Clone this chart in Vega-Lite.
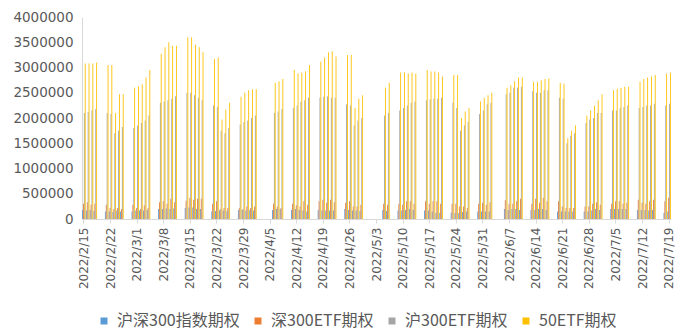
{
  "$schema": "https://vega.github.io/schema/vega-lite/v6.json",
  "width": 589,
  "height": 202,
  "autosize": {"type": "none"},
  "padding": {"left": 82, "top": 17, "right": 6, "bottom": 112},
  "background": "white",
  "config": {"view": {"stroke": null}},
  "data": {
    "values": [
      {"date": "2022/2/15", "series": "沪深300指数期权", "value": 180000},
      {"date": "2022/2/15", "series": "深300ETF期权", "value": 300000},
      {"date": "2022/2/15", "series": "沪300ETF期权", "value": 2100000},
      {"date": "2022/2/15", "series": "50ETF期权", "value": 3080000},
      {"date": "2022/2/16", "series": "沪深300指数期权", "value": 170000},
      {"date": "2022/2/16", "series": "深300ETF期权", "value": 330000},
      {"date": "2022/2/16", "series": "沪300ETF期权", "value": 2120000},
      {"date": "2022/2/16", "series": "50ETF期权", "value": 3080000},
      {"date": "2022/2/17", "series": "沪深300指数期权", "value": 180000},
      {"date": "2022/2/17", "series": "深300ETF期权", "value": 280000},
      {"date": "2022/2/17", "series": "沪300ETF期权", "value": 2150000},
      {"date": "2022/2/17", "series": "50ETF期权", "value": 3080000},
      {"date": "2022/2/18", "series": "沪深300指数期权", "value": 160000},
      {"date": "2022/2/18", "series": "深300ETF期权", "value": 300000},
      {"date": "2022/2/18", "series": "沪300ETF期权", "value": 2180000},
      {"date": "2022/2/18", "series": "50ETF期权", "value": 3100000},
      {"date": "2022/2/21", "series": "沪深300指数期权", "value": 150000},
      {"date": "2022/2/21", "series": "深300ETF期权", "value": 280000},
      {"date": "2022/2/21", "series": "沪300ETF期权", "value": 2100000},
      {"date": "2022/2/21", "series": "50ETF期权", "value": 3050000},
      {"date": "2022/2/22", "series": "沪深300指数期权", "value": 150000},
      {"date": "2022/2/22", "series": "深300ETF期权", "value": 220000},
      {"date": "2022/2/22", "series": "沪300ETF期权", "value": 2080000},
      {"date": "2022/2/22", "series": "50ETF期权", "value": 3050000},
      {"date": "2022/2/23", "series": "沪深300指数期权", "value": 140000},
      {"date": "2022/2/23", "series": "深300ETF期权", "value": 200000},
      {"date": "2022/2/23", "series": "沪300ETF期权", "value": 1700000},
      {"date": "2022/2/23", "series": "50ETF期权", "value": 2100000},
      {"date": "2022/2/24", "series": "沪深300指数期权", "value": 170000},
      {"date": "2022/2/24", "series": "深300ETF期权", "value": 220000},
      {"date": "2022/2/24", "series": "沪300ETF期权", "value": 1750000},
      {"date": "2022/2/24", "series": "50ETF期权", "value": 2470000},
      {"date": "2022/2/25", "series": "沪深300指数期权", "value": 150000},
      {"date": "2022/2/25", "series": "深300ETF期权", "value": 200000},
      {"date": "2022/2/25", "series": "沪300ETF期权", "value": 1820000},
      {"date": "2022/2/25", "series": "50ETF期权", "value": 2470000},
      {"date": "2022/2/28", "series": "沪深300指数期权", "value": 150000},
      {"date": "2022/2/28", "series": "深300ETF期权", "value": 280000},
      {"date": "2022/2/28", "series": "沪300ETF期权", "value": 1800000},
      {"date": "2022/2/28", "series": "50ETF期权", "value": 2600000},
      {"date": "2022/3/1", "series": "沪深300指数期权", "value": 170000},
      {"date": "2022/3/1", "series": "深300ETF期权", "value": 220000},
      {"date": "2022/3/1", "series": "沪300ETF期权", "value": 1850000},
      {"date": "2022/3/1", "series": "50ETF期权", "value": 2630000},
      {"date": "2022/3/2", "series": "沪深300指数期权", "value": 170000},
      {"date": "2022/3/2", "series": "深300ETF期权", "value": 200000},
      {"date": "2022/3/2", "series": "沪300ETF期权", "value": 1900000},
      {"date": "2022/3/2", "series": "50ETF期权", "value": 2670000},
      {"date": "2022/3/3", "series": "沪深300指数期权", "value": 170000},
      {"date": "2022/3/3", "series": "深300ETF期权", "value": 270000},
      {"date": "2022/3/3", "series": "沪300ETF期权", "value": 1950000},
      {"date": "2022/3/3", "series": "50ETF期权", "value": 2800000},
      {"date": "2022/3/4", "series": "沪深300指数期权", "value": 180000},
      {"date": "2022/3/4", "series": "深300ETF期权", "value": 220000},
      {"date": "2022/3/4", "series": "沪300ETF期权", "value": 2050000},
      {"date": "2022/3/4", "series": "50ETF期权", "value": 2950000},
      {"date": "2022/3/7", "series": "沪深300指数期权", "value": 200000},
      {"date": "2022/3/7", "series": "深300ETF期权", "value": 330000},
      {"date": "2022/3/7", "series": "沪300ETF期权", "value": 2300000},
      {"date": "2022/3/7", "series": "50ETF期权", "value": 3270000},
      {"date": "2022/3/8", "series": "沪深300指数期权", "value": 200000},
      {"date": "2022/3/8", "series": "深300ETF期权", "value": 350000},
      {"date": "2022/3/8", "series": "沪300ETF期权", "value": 2320000},
      {"date": "2022/3/8", "series": "50ETF期权", "value": 3400000},
      {"date": "2022/3/9", "series": "沪深300指数期权", "value": 210000},
      {"date": "2022/3/9", "series": "深300ETF期权", "value": 300000},
      {"date": "2022/3/9", "series": "沪300ETF期权", "value": 2350000},
      {"date": "2022/3/9", "series": "50ETF期权", "value": 3500000},
      {"date": "2022/3/10", "series": "沪深300指数期权", "value": 200000},
      {"date": "2022/3/10", "series": "深300ETF期权", "value": 400000},
      {"date": "2022/3/10", "series": "沪300ETF期权", "value": 2380000},
      {"date": "2022/3/10", "series": "50ETF期权", "value": 3430000},
      {"date": "2022/3/11", "series": "沪深300指数期权", "value": 210000},
      {"date": "2022/3/11", "series": "深300ETF期权", "value": 330000},
      {"date": "2022/3/11", "series": "沪300ETF期权", "value": 2430000},
      {"date": "2022/3/11", "series": "50ETF期权", "value": 3430000},
      {"date": "2022/3/14", "series": "沪深300指数期权", "value": 220000},
      {"date": "2022/3/14", "series": "深300ETF期权", "value": 360000},
      {"date": "2022/3/14", "series": "沪300ETF期权", "value": 2500000},
      {"date": "2022/3/14", "series": "50ETF期权", "value": 3600000},
      {"date": "2022/3/15", "series": "沪深300指数期权", "value": 230000},
      {"date": "2022/3/15", "series": "深300ETF期权", "value": 420000},
      {"date": "2022/3/15", "series": "沪300ETF期权", "value": 2500000},
      {"date": "2022/3/15", "series": "50ETF期权", "value": 3600000},
      {"date": "2022/3/16", "series": "沪深300指数期权", "value": 230000},
      {"date": "2022/3/16", "series": "深300ETF期权", "value": 380000},
      {"date": "2022/3/16", "series": "沪300ETF期权", "value": 2450000},
      {"date": "2022/3/16", "series": "50ETF期权", "value": 3450000},
      {"date": "2022/3/17", "series": "沪深300指数期权", "value": 200000},
      {"date": "2022/3/17", "series": "深300ETF期权", "value": 400000},
      {"date": "2022/3/17", "series": "沪300ETF期权", "value": 2400000},
      {"date": "2022/3/17", "series": "50ETF期权", "value": 3400000},
      {"date": "2022/3/18", "series": "沪深300指数期权", "value": 200000},
      {"date": "2022/3/18", "series": "深300ETF期权", "value": 400000},
      {"date": "2022/3/18", "series": "沪300ETF期权", "value": 2350000},
      {"date": "2022/3/18", "series": "50ETF期权", "value": 3300000},
      {"date": "2022/3/21", "series": "沪深300指数期权", "value": 150000},
      {"date": "2022/3/21", "series": "深300ETF期权", "value": 300000},
      {"date": "2022/3/21", "series": "沪300ETF期权", "value": 2250000},
      {"date": "2022/3/21", "series": "50ETF期权", "value": 3170000},
      {"date": "2022/3/22", "series": "沪深300指数期权", "value": 160000},
      {"date": "2022/3/22", "series": "深300ETF期权", "value": 350000},
      {"date": "2022/3/22", "series": "沪300ETF期权", "value": 2220000},
      {"date": "2022/3/22", "series": "50ETF期权", "value": 3200000},
      {"date": "2022/3/23", "series": "沪深300指数期权", "value": 170000},
      {"date": "2022/3/23", "series": "深300ETF期权", "value": 200000},
      {"date": "2022/3/23", "series": "沪300ETF期权", "value": 1750000},
      {"date": "2022/3/23", "series": "50ETF期权", "value": 1970000},
      {"date": "2022/3/24", "series": "沪深300指数期权", "value": 170000},
      {"date": "2022/3/24", "series": "深300ETF期权", "value": 220000},
      {"date": "2022/3/24", "series": "沪300ETF期权", "value": 1700000},
      {"date": "2022/3/24", "series": "50ETF期权", "value": 2170000},
      {"date": "2022/3/25", "series": "沪深300指数期权", "value": 160000},
      {"date": "2022/3/25", "series": "深300ETF期权", "value": 220000},
      {"date": "2022/3/25", "series": "沪300ETF期权", "value": 1800000},
      {"date": "2022/3/25", "series": "50ETF期权", "value": 2300000},
      {"date": "2022/3/28", "series": "沪深300指数期权", "value": 180000},
      {"date": "2022/3/28", "series": "深300ETF期权", "value": 220000},
      {"date": "2022/3/28", "series": "沪300ETF期权", "value": 1870000},
      {"date": "2022/3/28", "series": "50ETF期权", "value": 2420000},
      {"date": "2022/3/29", "series": "沪深300指数期权", "value": 180000},
      {"date": "2022/3/29", "series": "深300ETF期权", "value": 200000},
      {"date": "2022/3/29", "series": "沪300ETF期权", "value": 1920000},
      {"date": "2022/3/29", "series": "50ETF期权", "value": 2500000},
      {"date": "2022/3/30", "series": "沪深300指数期权", "value": 170000},
      {"date": "2022/3/30", "series": "深300ETF期权", "value": 250000},
      {"date": "2022/3/30", "series": "沪300ETF期权", "value": 1950000},
      {"date": "2022/3/30", "series": "50ETF期权", "value": 2550000},
      {"date": "2022/3/31", "series": "沪深300指数期权", "value": 180000},
      {"date": "2022/3/31", "series": "深300ETF期权", "value": 220000},
      {"date": "2022/3/31", "series": "沪300ETF期权", "value": 2000000},
      {"date": "2022/3/31", "series": "50ETF期权", "value": 2570000},
      {"date": "2022/4/1", "series": "沪深300指数期权", "value": 170000},
      {"date": "2022/4/1", "series": "深300ETF期权", "value": 250000},
      {"date": "2022/4/1", "series": "沪300ETF期权", "value": 2050000},
      {"date": "2022/4/1", "series": "50ETF期权", "value": 2570000},
      {"date": "2022/4/6", "series": "沪深300指数期权", "value": 180000},
      {"date": "2022/4/6", "series": "深300ETF期权", "value": 300000},
      {"date": "2022/4/6", "series": "沪300ETF期权", "value": 2100000},
      {"date": "2022/4/6", "series": "50ETF期权", "value": 2700000},
      {"date": "2022/4/7", "series": "沪深300指数期权", "value": 200000},
      {"date": "2022/4/7", "series": "深300ETF期权", "value": 250000},
      {"date": "2022/4/7", "series": "沪300ETF期权", "value": 2130000},
      {"date": "2022/4/7", "series": "50ETF期权", "value": 2730000},
      {"date": "2022/4/8", "series": "沪深300指数期权", "value": 200000},
      {"date": "2022/4/8", "series": "深300ETF期权", "value": 220000},
      {"date": "2022/4/8", "series": "沪300ETF期权", "value": 2180000},
      {"date": "2022/4/8", "series": "50ETF期权", "value": 2770000},
      {"date": "2022/4/11", "series": "沪深300指数期权", "value": 180000},
      {"date": "2022/4/11", "series": "深300ETF期权", "value": 300000},
      {"date": "2022/4/11", "series": "沪300ETF期权", "value": 2200000},
      {"date": "2022/4/11", "series": "50ETF期权", "value": 2950000},
      {"date": "2022/4/12", "series": "沪深300指数期权", "value": 200000},
      {"date": "2022/4/12", "series": "深300ETF期权", "value": 270000},
      {"date": "2022/4/12", "series": "沪300ETF期权", "value": 2250000},
      {"date": "2022/4/12", "series": "50ETF期权", "value": 2880000},
      {"date": "2022/4/13", "series": "沪深300指数期权", "value": 180000},
      {"date": "2022/4/13", "series": "深300ETF期权", "value": 250000},
      {"date": "2022/4/13", "series": "沪300ETF期权", "value": 2320000},
      {"date": "2022/4/13", "series": "50ETF期权", "value": 2900000},
      {"date": "2022/4/14", "series": "沪深300指数期权", "value": 170000},
      {"date": "2022/4/14", "series": "深300ETF期权", "value": 350000},
      {"date": "2022/4/14", "series": "沪300ETF期权", "value": 2350000},
      {"date": "2022/4/14", "series": "50ETF期权", "value": 2920000},
      {"date": "2022/4/15", "series": "沪深300指数期权", "value": 150000},
      {"date": "2022/4/15", "series": "深300ETF期权", "value": 280000},
      {"date": "2022/4/15", "series": "沪300ETF期权", "value": 2400000},
      {"date": "2022/4/15", "series": "50ETF期权", "value": 3050000},
      {"date": "2022/4/18", "series": "沪深300指数期权", "value": 180000},
      {"date": "2022/4/18", "series": "深300ETF期权", "value": 350000},
      {"date": "2022/4/18", "series": "沪300ETF期权", "value": 2400000},
      {"date": "2022/4/18", "series": "50ETF期权", "value": 3120000},
      {"date": "2022/4/19", "series": "沪深300指数期权", "value": 170000},
      {"date": "2022/4/19", "series": "深300ETF期权", "value": 380000},
      {"date": "2022/4/19", "series": "沪300ETF期权", "value": 2420000},
      {"date": "2022/4/19", "series": "50ETF期权", "value": 3200000},
      {"date": "2022/4/20", "series": "沪深300指数期权", "value": 170000},
      {"date": "2022/4/20", "series": "深300ETF期权", "value": 320000},
      {"date": "2022/4/20", "series": "沪300ETF期权", "value": 2430000},
      {"date": "2022/4/20", "series": "50ETF期权", "value": 3300000},
      {"date": "2022/4/21", "series": "沪深300指数期权", "value": 170000},
      {"date": "2022/4/21", "series": "深300ETF期权", "value": 380000},
      {"date": "2022/4/21", "series": "沪300ETF期权", "value": 2400000},
      {"date": "2022/4/21", "series": "50ETF期权", "value": 3320000},
      {"date": "2022/4/22", "series": "沪深300指数期权", "value": 170000},
      {"date": "2022/4/22", "series": "深300ETF期权", "value": 330000},
      {"date": "2022/4/22", "series": "沪300ETF期权", "value": 2400000},
      {"date": "2022/4/22", "series": "50ETF期权", "value": 3220000},
      {"date": "2022/4/25", "series": "沪深300指数期权", "value": 200000},
      {"date": "2022/4/25", "series": "深300ETF期权", "value": 320000},
      {"date": "2022/4/25", "series": "沪300ETF期权", "value": 2270000},
      {"date": "2022/4/25", "series": "50ETF期权", "value": 3250000},
      {"date": "2022/4/26", "series": "沪深300指数期权", "value": 180000},
      {"date": "2022/4/26", "series": "深300ETF期权", "value": 350000},
      {"date": "2022/4/26", "series": "沪300ETF期权", "value": 2250000},
      {"date": "2022/4/26", "series": "50ETF期权", "value": 3250000},
      {"date": "2022/4/27", "series": "沪深300指数期权", "value": 170000},
      {"date": "2022/4/27", "series": "深300ETF期权", "value": 250000},
      {"date": "2022/4/27", "series": "沪300ETF期权", "value": 1850000},
      {"date": "2022/4/27", "series": "50ETF期权", "value": 2200000},
      {"date": "2022/4/28", "series": "沪深300指数期权", "value": 170000},
      {"date": "2022/4/28", "series": "深300ETF期权", "value": 250000},
      {"date": "2022/4/28", "series": "沪300ETF期权", "value": 1950000},
      {"date": "2022/4/28", "series": "50ETF期权", "value": 2380000},
      {"date": "2022/4/29", "series": "沪深300指数期权", "value": 160000},
      {"date": "2022/4/29", "series": "深300ETF期权", "value": 280000},
      {"date": "2022/4/29", "series": "沪300ETF期权", "value": 2000000},
      {"date": "2022/4/29", "series": "50ETF期权", "value": 2450000},
      {"date": "2022/5/5", "series": "沪深300指数期权", "value": 180000},
      {"date": "2022/5/5", "series": "深300ETF期权", "value": 300000},
      {"date": "2022/5/5", "series": "沪300ETF期权", "value": 2050000},
      {"date": "2022/5/5", "series": "50ETF期权", "value": 2600000},
      {"date": "2022/5/6", "series": "沪深300指数期权", "value": 160000},
      {"date": "2022/5/6", "series": "深300ETF期权", "value": 280000},
      {"date": "2022/5/6", "series": "沪300ETF期权", "value": 2100000},
      {"date": "2022/5/6", "series": "50ETF期权", "value": 2700000},
      {"date": "2022/5/9", "series": "沪深300指数期权", "value": 170000},
      {"date": "2022/5/9", "series": "深300ETF期权", "value": 300000},
      {"date": "2022/5/9", "series": "沪300ETF期权", "value": 2150000},
      {"date": "2022/5/9", "series": "50ETF期权", "value": 2900000},
      {"date": "2022/5/10", "series": "沪深300指数期权", "value": 170000},
      {"date": "2022/5/10", "series": "深300ETF期权", "value": 280000},
      {"date": "2022/5/10", "series": "沪300ETF期权", "value": 2200000},
      {"date": "2022/5/10", "series": "50ETF期权", "value": 2900000},
      {"date": "2022/5/11", "series": "沪深300指数期权", "value": 180000},
      {"date": "2022/5/11", "series": "深300ETF期权", "value": 350000},
      {"date": "2022/5/11", "series": "沪300ETF期权", "value": 2250000},
      {"date": "2022/5/11", "series": "50ETF期权", "value": 2880000},
      {"date": "2022/5/12", "series": "沪深300指数期权", "value": 200000},
      {"date": "2022/5/12", "series": "深300ETF期权", "value": 350000},
      {"date": "2022/5/12", "series": "沪300ETF期权", "value": 2300000},
      {"date": "2022/5/12", "series": "50ETF期权", "value": 2900000},
      {"date": "2022/5/13", "series": "沪深300指数期权", "value": 180000},
      {"date": "2022/5/13", "series": "深300ETF期权", "value": 300000},
      {"date": "2022/5/13", "series": "沪300ETF期权", "value": 2320000},
      {"date": "2022/5/13", "series": "50ETF期权", "value": 2880000},
      {"date": "2022/5/16", "series": "沪深300指数期权", "value": 170000},
      {"date": "2022/5/16", "series": "深300ETF期权", "value": 350000},
      {"date": "2022/5/16", "series": "沪300ETF期权", "value": 2350000},
      {"date": "2022/5/16", "series": "50ETF期权", "value": 2950000},
      {"date": "2022/5/17", "series": "沪深300指数期权", "value": 170000},
      {"date": "2022/5/17", "series": "深300ETF期权", "value": 300000},
      {"date": "2022/5/17", "series": "沪300ETF期权", "value": 2370000},
      {"date": "2022/5/17", "series": "50ETF期权", "value": 2920000},
      {"date": "2022/5/18", "series": "沪深300指数期权", "value": 150000},
      {"date": "2022/5/18", "series": "深300ETF期权", "value": 350000},
      {"date": "2022/5/18", "series": "沪300ETF期权", "value": 2380000},
      {"date": "2022/5/18", "series": "50ETF期权", "value": 2920000},
      {"date": "2022/5/19", "series": "沪深300指数期权", "value": 120000},
      {"date": "2022/5/19", "series": "深300ETF期权", "value": 350000},
      {"date": "2022/5/19", "series": "沪300ETF期权", "value": 2380000},
      {"date": "2022/5/19", "series": "50ETF期权", "value": 2900000},
      {"date": "2022/5/20", "series": "沪深300指数期权", "value": 120000},
      {"date": "2022/5/20", "series": "深300ETF期权", "value": 300000},
      {"date": "2022/5/20", "series": "沪300ETF期权", "value": 2400000},
      {"date": "2022/5/20", "series": "50ETF期权", "value": 2820000},
      {"date": "2022/5/23", "series": "沪深300指数期权", "value": 130000},
      {"date": "2022/5/23", "series": "深300ETF期权", "value": 300000},
      {"date": "2022/5/23", "series": "沪300ETF期权", "value": 2300000},
      {"date": "2022/5/23", "series": "50ETF期权", "value": 2850000},
      {"date": "2022/5/24", "series": "沪深300指数期权", "value": 120000},
      {"date": "2022/5/24", "series": "深300ETF期权", "value": 300000},
      {"date": "2022/5/24", "series": "沪300ETF期权", "value": 2200000},
      {"date": "2022/5/24", "series": "50ETF期权", "value": 2850000},
      {"date": "2022/5/25", "series": "沪深300指数期权", "value": 120000},
      {"date": "2022/5/25", "series": "深300ETF期权", "value": 250000},
      {"date": "2022/5/25", "series": "沪300ETF期权", "value": 1750000},
      {"date": "2022/5/25", "series": "50ETF期权", "value": 2000000},
      {"date": "2022/5/26", "series": "沪深300指数期权", "value": 140000},
      {"date": "2022/5/26", "series": "深300ETF期权", "value": 250000},
      {"date": "2022/5/26", "series": "沪300ETF期权", "value": 1850000},
      {"date": "2022/5/26", "series": "50ETF期权", "value": 2130000},
      {"date": "2022/5/27", "series": "沪深300指数期权", "value": 150000},
      {"date": "2022/5/27", "series": "深300ETF期权", "value": 220000},
      {"date": "2022/5/27", "series": "沪300ETF期权", "value": 1920000},
      {"date": "2022/5/27", "series": "50ETF期权", "value": 2200000},
      {"date": "2022/5/30", "series": "沪深300指数期权", "value": 150000},
      {"date": "2022/5/30", "series": "深300ETF期权", "value": 300000},
      {"date": "2022/5/30", "series": "沪300ETF期权", "value": 2080000},
      {"date": "2022/5/30", "series": "50ETF期权", "value": 2330000},
      {"date": "2022/5/31", "series": "沪深300指数期权", "value": 150000},
      {"date": "2022/5/31", "series": "深300ETF期权", "value": 320000},
      {"date": "2022/5/31", "series": "沪300ETF期权", "value": 2150000},
      {"date": "2022/5/31", "series": "50ETF期权", "value": 2400000},
      {"date": "2022/6/1", "series": "沪深300指数期权", "value": 150000},
      {"date": "2022/6/1", "series": "深300ETF期权", "value": 280000},
      {"date": "2022/6/1", "series": "沪300ETF期权", "value": 2270000},
      {"date": "2022/6/1", "series": "50ETF期权", "value": 2450000},
      {"date": "2022/6/2", "series": "沪深300指数期权", "value": 150000},
      {"date": "2022/6/2", "series": "深300ETF期权", "value": 330000},
      {"date": "2022/6/2", "series": "沪300ETF期权", "value": 2300000},
      {"date": "2022/6/2", "series": "50ETF期权", "value": 2500000},
      {"date": "2022/6/6", "series": "沪深300指数期权", "value": 200000},
      {"date": "2022/6/6", "series": "深300ETF期权", "value": 370000},
      {"date": "2022/6/6", "series": "沪300ETF期权", "value": 2470000},
      {"date": "2022/6/6", "series": "50ETF期权", "value": 2600000},
      {"date": "2022/6/7", "series": "沪深300指数期权", "value": 180000},
      {"date": "2022/6/7", "series": "深300ETF期权", "value": 300000},
      {"date": "2022/6/7", "series": "沪300ETF期权", "value": 2500000},
      {"date": "2022/6/7", "series": "50ETF期权", "value": 2650000},
      {"date": "2022/6/8", "series": "沪深300指数期权", "value": 200000},
      {"date": "2022/6/8", "series": "深300ETF期权", "value": 300000},
      {"date": "2022/6/8", "series": "沪300ETF期权", "value": 2600000},
      {"date": "2022/6/8", "series": "50ETF期权", "value": 2730000},
      {"date": "2022/6/9", "series": "沪深300指数期权", "value": 200000},
      {"date": "2022/6/9", "series": "深300ETF期权", "value": 350000},
      {"date": "2022/6/9", "series": "沪300ETF期权", "value": 2600000},
      {"date": "2022/6/9", "series": "50ETF期权", "value": 2800000},
      {"date": "2022/6/10", "series": "沪深300指数期权", "value": 180000},
      {"date": "2022/6/10", "series": "深300ETF期权", "value": 400000},
      {"date": "2022/6/10", "series": "沪300ETF期权", "value": 2620000},
      {"date": "2022/6/10", "series": "50ETF期权", "value": 2800000},
      {"date": "2022/6/13", "series": "沪深300指数期权", "value": 180000},
      {"date": "2022/6/13", "series": "深300ETF期权", "value": 300000},
      {"date": "2022/6/13", "series": "沪300ETF期权", "value": 2530000},
      {"date": "2022/6/13", "series": "50ETF期权", "value": 2720000},
      {"date": "2022/6/14", "series": "沪深300指数期权", "value": 180000},
      {"date": "2022/6/14", "series": "深300ETF期权", "value": 400000},
      {"date": "2022/6/14", "series": "沪300ETF期权", "value": 2500000},
      {"date": "2022/6/14", "series": "50ETF期权", "value": 2720000},
      {"date": "2022/6/15", "series": "沪深300指数期权", "value": 200000},
      {"date": "2022/6/15", "series": "深300ETF期权", "value": 320000},
      {"date": "2022/6/15", "series": "沪300ETF期权", "value": 2500000},
      {"date": "2022/6/15", "series": "50ETF期权", "value": 2750000},
      {"date": "2022/6/16", "series": "沪深300指数期权", "value": 200000},
      {"date": "2022/6/16", "series": "深300ETF期权", "value": 420000},
      {"date": "2022/6/16", "series": "沪300ETF期权", "value": 2550000},
      {"date": "2022/6/16", "series": "50ETF期权", "value": 2770000},
      {"date": "2022/6/17", "series": "沪深300指数期权", "value": 180000},
      {"date": "2022/6/17", "series": "深300ETF期权", "value": 350000},
      {"date": "2022/6/17", "series": "沪300ETF期权", "value": 2550000},
      {"date": "2022/6/17", "series": "50ETF期权", "value": 2780000},
      {"date": "2022/6/20", "series": "沪深300指数期权", "value": 150000},
      {"date": "2022/6/20", "series": "深300ETF期权", "value": 350000},
      {"date": "2022/6/20", "series": "沪300ETF期权", "value": 2400000},
      {"date": "2022/6/20", "series": "50ETF期权", "value": 2700000},
      {"date": "2022/6/21", "series": "沪深300指数期权", "value": 150000},
      {"date": "2022/6/21", "series": "深300ETF期权", "value": 250000},
      {"date": "2022/6/21", "series": "沪300ETF期权", "value": 2380000},
      {"date": "2022/6/21", "series": "50ETF期权", "value": 2680000},
      {"date": "2022/6/22", "series": "沪深300指数期权", "value": 150000},
      {"date": "2022/6/22", "series": "深300ETF期权", "value": 220000},
      {"date": "2022/6/22", "series": "沪300ETF期权", "value": 1500000},
      {"date": "2022/6/22", "series": "50ETF期权", "value": 1600000},
      {"date": "2022/6/23", "series": "沪深300指数期权", "value": 150000},
      {"date": "2022/6/23", "series": "深300ETF期权", "value": 220000},
      {"date": "2022/6/23", "series": "沪300ETF期权", "value": 1650000},
      {"date": "2022/6/23", "series": "50ETF期权", "value": 1750000},
      {"date": "2022/6/24", "series": "沪深300指数期权", "value": 150000},
      {"date": "2022/6/24", "series": "深300ETF期权", "value": 220000},
      {"date": "2022/6/24", "series": "沪300ETF期权", "value": 1700000},
      {"date": "2022/6/24", "series": "50ETF期权", "value": 1850000},
      {"date": "2022/6/27", "series": "沪深300指数期权", "value": 150000},
      {"date": "2022/6/27", "series": "深300ETF期权", "value": 250000},
      {"date": "2022/6/27", "series": "沪300ETF期权", "value": 1900000},
      {"date": "2022/6/27", "series": "50ETF期权", "value": 2050000},
      {"date": "2022/6/28", "series": "沪深300指数期权", "value": 150000},
      {"date": "2022/6/28", "series": "深300ETF期权", "value": 250000},
      {"date": "2022/6/28", "series": "沪300ETF期权", "value": 1970000},
      {"date": "2022/6/28", "series": "50ETF期权", "value": 2150000},
      {"date": "2022/6/29", "series": "沪深300指数期权", "value": 170000},
      {"date": "2022/6/29", "series": "深300ETF期权", "value": 300000},
      {"date": "2022/6/29", "series": "沪300ETF期权", "value": 2000000},
      {"date": "2022/6/29", "series": "50ETF期权", "value": 2250000},
      {"date": "2022/6/30", "series": "沪深300指数期权", "value": 200000},
      {"date": "2022/6/30", "series": "深300ETF期权", "value": 330000},
      {"date": "2022/6/30", "series": "沪300ETF期权", "value": 2100000},
      {"date": "2022/6/30", "series": "50ETF期权", "value": 2350000},
      {"date": "2022/7/1", "series": "沪深300指数期权", "value": 180000},
      {"date": "2022/7/1", "series": "深300ETF期权", "value": 280000},
      {"date": "2022/7/1", "series": "沪300ETF期权", "value": 2100000},
      {"date": "2022/7/1", "series": "50ETF期权", "value": 2470000},
      {"date": "2022/7/4", "series": "沪深300指数期权", "value": 200000},
      {"date": "2022/7/4", "series": "深300ETF期权", "value": 300000},
      {"date": "2022/7/4", "series": "沪300ETF期权", "value": 2150000},
      {"date": "2022/7/4", "series": "50ETF期权", "value": 2550000},
      {"date": "2022/7/5", "series": "沪深300指数期权", "value": 200000},
      {"date": "2022/7/5", "series": "深300ETF期权", "value": 350000},
      {"date": "2022/7/5", "series": "沪300ETF期权", "value": 2150000},
      {"date": "2022/7/5", "series": "50ETF期权", "value": 2580000},
      {"date": "2022/7/6", "series": "沪深300指数期权", "value": 200000},
      {"date": "2022/7/6", "series": "深300ETF期权", "value": 350000},
      {"date": "2022/7/6", "series": "沪300ETF期权", "value": 2200000},
      {"date": "2022/7/6", "series": "50ETF期权", "value": 2600000},
      {"date": "2022/7/7", "series": "沪深300指数期权", "value": 200000},
      {"date": "2022/7/7", "series": "深300ETF期权", "value": 300000},
      {"date": "2022/7/7", "series": "沪300ETF期权", "value": 2220000},
      {"date": "2022/7/7", "series": "50ETF期权", "value": 2620000},
      {"date": "2022/7/8", "series": "沪深300指数期权", "value": 200000},
      {"date": "2022/7/8", "series": "深300ETF期权", "value": 320000},
      {"date": "2022/7/8", "series": "沪300ETF期权", "value": 2250000},
      {"date": "2022/7/8", "series": "50ETF期权", "value": 2620000},
      {"date": "2022/7/11", "series": "沪深300指数期权", "value": 180000},
      {"date": "2022/7/11", "series": "深300ETF期权", "value": 380000},
      {"date": "2022/7/11", "series": "沪300ETF期权", "value": 2200000},
      {"date": "2022/7/11", "series": "50ETF期权", "value": 2720000},
      {"date": "2022/7/12", "series": "沪深300指数期权", "value": 180000},
      {"date": "2022/7/12", "series": "深300ETF期权", "value": 320000},
      {"date": "2022/7/12", "series": "沪300ETF期权", "value": 2220000},
      {"date": "2022/7/12", "series": "50ETF期权", "value": 2770000},
      {"date": "2022/7/13", "series": "沪深300指数期权", "value": 180000},
      {"date": "2022/7/13", "series": "深300ETF期权", "value": 300000},
      {"date": "2022/7/13", "series": "沪300ETF期权", "value": 2250000},
      {"date": "2022/7/13", "series": "50ETF期权", "value": 2800000},
      {"date": "2022/7/14", "series": "沪深300指数期权", "value": 170000},
      {"date": "2022/7/14", "series": "深300ETF期权", "value": 350000},
      {"date": "2022/7/14", "series": "沪300ETF期权", "value": 2250000},
      {"date": "2022/7/14", "series": "50ETF期权", "value": 2820000},
      {"date": "2022/7/15", "series": "沪深300指数期权", "value": 180000},
      {"date": "2022/7/15", "series": "深300ETF期权", "value": 380000},
      {"date": "2022/7/15", "series": "沪300ETF期权", "value": 2280000},
      {"date": "2022/7/15", "series": "50ETF期权", "value": 2850000},
      {"date": "2022/7/18", "series": "沪深300指数期权", "value": 120000},
      {"date": "2022/7/18", "series": "深300ETF期权", "value": 350000},
      {"date": "2022/7/18", "series": "沪300ETF期权", "value": 2250000},
      {"date": "2022/7/18", "series": "50ETF期权", "value": 2880000},
      {"date": "2022/7/19", "series": "沪深300指数期权", "value": 150000},
      {"date": "2022/7/19", "series": "深300ETF期权", "value": 420000},
      {"date": "2022/7/19", "series": "沪300ETF期权", "value": 2280000},
      {"date": "2022/7/19", "series": "50ETF期权", "value": 2900000}
    ]
  },
  "mark": {"type": "bar"},
  "encoding": {
    "x": {
      "field": "date",
      "type": "ordinal",
      "scale": {
        "domain": [
          "2022/2/15", "2022/2/16", "2022/2/17", "2022/2/18", "2022/2/19", "2022/2/20", "2022/2/21", "2022/2/22", "2022/2/23", "2022/2/24", "2022/2/25", "2022/2/26", "2022/2/27", "2022/2/28",
          "2022/3/1", "2022/3/2", "2022/3/3", "2022/3/4", "2022/3/5", "2022/3/6", "2022/3/7", "2022/3/8", "2022/3/9", "2022/3/10", "2022/3/11", "2022/3/12", "2022/3/13", "2022/3/14", "2022/3/15", "2022/3/16", "2022/3/17", "2022/3/18", "2022/3/19", "2022/3/20", "2022/3/21", "2022/3/22", "2022/3/23", "2022/3/24", "2022/3/25", "2022/3/26", "2022/3/27", "2022/3/28", "2022/3/29", "2022/3/30", "2022/3/31",
          "2022/4/1", "2022/4/2", "2022/4/3", "2022/4/4", "2022/4/5", "2022/4/6", "2022/4/7", "2022/4/8", "2022/4/9", "2022/4/10", "2022/4/11", "2022/4/12", "2022/4/13", "2022/4/14", "2022/4/15", "2022/4/16", "2022/4/17", "2022/4/18", "2022/4/19", "2022/4/20", "2022/4/21", "2022/4/22", "2022/4/23", "2022/4/24", "2022/4/25", "2022/4/26", "2022/4/27", "2022/4/28", "2022/4/29", "2022/4/30",
          "2022/5/1", "2022/5/2", "2022/5/3", "2022/5/4", "2022/5/5", "2022/5/6", "2022/5/7", "2022/5/8", "2022/5/9", "2022/5/10", "2022/5/11", "2022/5/12", "2022/5/13", "2022/5/14", "2022/5/15", "2022/5/16", "2022/5/17", "2022/5/18", "2022/5/19", "2022/5/20", "2022/5/21", "2022/5/22", "2022/5/23", "2022/5/24", "2022/5/25", "2022/5/26", "2022/5/27", "2022/5/28", "2022/5/29", "2022/5/30", "2022/5/31",
          "2022/6/1", "2022/6/2", "2022/6/3", "2022/6/4", "2022/6/5", "2022/6/6", "2022/6/7", "2022/6/8", "2022/6/9", "2022/6/10", "2022/6/11", "2022/6/12", "2022/6/13", "2022/6/14", "2022/6/15", "2022/6/16", "2022/6/17", "2022/6/18", "2022/6/19", "2022/6/20", "2022/6/21", "2022/6/22", "2022/6/23", "2022/6/24", "2022/6/25", "2022/6/26", "2022/6/27", "2022/6/28", "2022/6/29", "2022/6/30",
          "2022/7/1", "2022/7/2", "2022/7/3", "2022/7/4", "2022/7/5", "2022/7/6", "2022/7/7", "2022/7/8", "2022/7/9", "2022/7/10", "2022/7/11", "2022/7/12", "2022/7/13", "2022/7/14", "2022/7/15", "2022/7/16", "2022/7/17", "2022/7/18", "2022/7/19"
        ],
        "paddingInner": 0,
        "paddingOuter": 0
      },
      "axis": {
        "title": null,
        "values": ["2022/2/15", "2022/2/22", "2022/3/1", "2022/3/8", "2022/3/15", "2022/3/22", "2022/3/29", "2022/4/5", "2022/4/12", "2022/4/19", "2022/4/26", "2022/5/3", "2022/5/10", "2022/5/17", "2022/5/24", "2022/5/31", "2022/6/7", "2022/6/14", "2022/6/21", "2022/6/28", "2022/7/5", "2022/7/12", "2022/7/19"],
        "labelAngle": -90,
        "labelFont": "DejaVu Sans",
        "labelFontSize": 12,
        "labelColor": "#595959",
        "labelPadding": 4,
        "labelOverlap": false,
        "labelBound": false,
        "domainColor": "#D9D9D9",
        "tickColor": "#D9D9D9",
        "tickSize": 4,
        "grid": false
      }
    },
    "xOffset": {
      "field": "series",
      "type": "nominal",
      "scale": {
        "domain": ["沪深300指数期权", "深300ETF期权", "沪300ETF期权", "50ETF期权"],
        "paddingInner": 0,
        "paddingOuter": 0.15
      }
    },
    "y": {
      "field": "value",
      "type": "quantitative",
      "scale": {"domain": [0, 4000000]},
      "axis": {
        "title": null,
        "values": [0, 500000, 1000000, 1500000, 2000000, 2500000, 3000000, 3500000, 4000000],
        "format": "d",
        "labelFont": "DejaVu Sans",
        "labelFontSize": 13.5,
        "labelColor": "#595959",
        "labelPadding": 9,
        "ticks": false,
        "grid": false,
        "domainColor": "#D9D9D9"
      }
    },
    "color": {
      "field": "series",
      "type": "nominal",
      "scale": {
        "domain": ["沪深300指数期权", "深300ETF期权", "沪300ETF期权", "50ETF期权"],
        "range": ["#5B9BD5", "#ED7D31", "#A5A5A5", "#FFC000"]
      },
      "legend": {
        "title": null,
        "orient": "none",
        "direction": "horizontal",
        "legendX": 14,
        "legendY": 296,
        "symbolType": "square",
        "symbolSize": 49,
        "symbolStrokeWidth": 0,
        "labelFont": "Noto Sans CJK SC",
        "labelFontSize": 16,
        "labelColor": "#595959",
        "labelOffset": 5,
        "columnPadding": 10
      }
    }
  }
}
